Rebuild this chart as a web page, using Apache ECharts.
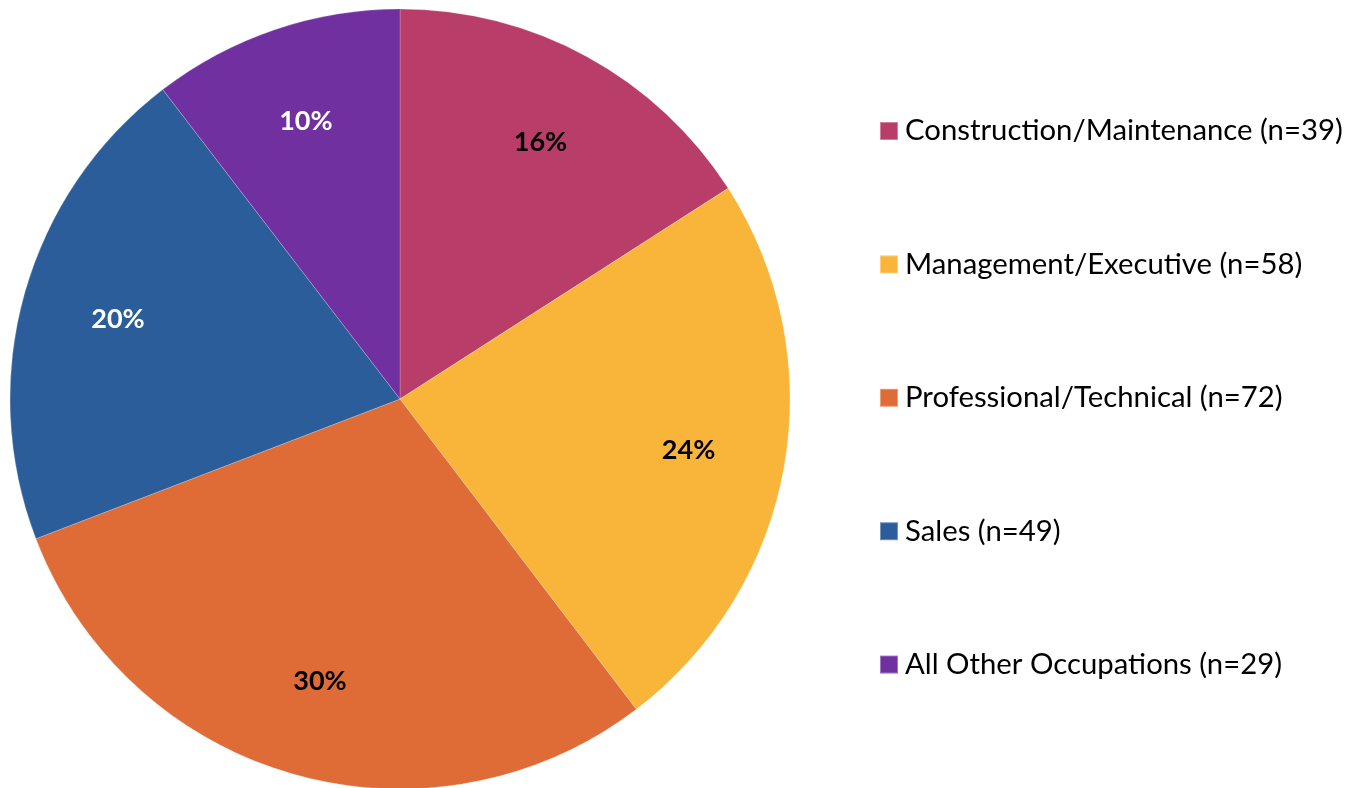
<!DOCTYPE html>
<html>
<head>
<meta charset="utf-8">
<script src="https://cdn.jsdelivr.net/npm/echarts@6/dist/echarts.min.js"></script>
<style>
html,body{margin:0;padding:0;background:#fff;}
#c{width:1348px;height:788px;}
</style>
</head>
<body>
<div id="c"></div>
<script>
const categories = ['Construction/Maintenance (n=39)', 'Management/Executive (n=58)', 'Professional/Technical (n=72)', 'Sales (n=49)', 'All Other Occupations (n=29)'];
const percents = [15.9, 23.7, 29.5, 20.4, 10.4];
const colors = ['#B83D68', '#F8B53A', '#DF6C37', '#2A5D99', '#7030A0'];
const labelColors = ['#000', '#000', '#000', '#fff', '#fff'];

const chart = echarts.init(document.getElementById('c'), null, {renderer: 'canvas'});
const FONT = 'Lato, "Open Sans", sans-serif';

const pieData = categories.map((n, i) => ({name: n, value: percents[i], itemStyle: {color: colors[i]}}));
const labelData = categories.map((n, i) => ({name: n, value: percents[i], label: {color: labelColors[i]}}));

chart.setOption({
  animation: false,
  legend: {
    orient: 'vertical',
    left: 879,
    top: 116,
    padding: 0,
    itemWidth: 18,
    itemHeight: 18,
    itemGap: 103.4,
    icon: 'rect',
    data: categories,
    selectedMode: false,
    textStyle: {fontFamily: FONT, fontSize: 29.3, color: '#000', lineHeight: 30, padding: [0, 0, 0, 2]}
  },
  series: [
    {
      type: 'pie',
      center: [400, 399],
      radius: [0, 390],
      startAngle: 90,
      clockwise: true,
      silent: true,
      label: {show: false},
      labelLine: {show: false},
      itemStyle: {borderColor: 'rgba(255,255,255,0.35)', borderWidth: 0.6},
      data: pieData
    },
    {
      type: 'pie',
      center: [400, 399],
      radius: [190, 390],
      startAngle: 90,
      clockwise: true,
      silent: true,
      legendHoverLink: false,
      itemStyle: {color: 'rgba(0,0,0,0)'},
      label: {
        show: true,
        position: 'inside',
        formatter: p => Math.round(p.value) + '%',
        fontFamily: FONT,
        fontSize: 27,
        fontWeight: 'bold'
      },
      labelLine: {show: false},
      data: labelData
    }
  ]
});
</script>
</body>
</html>
